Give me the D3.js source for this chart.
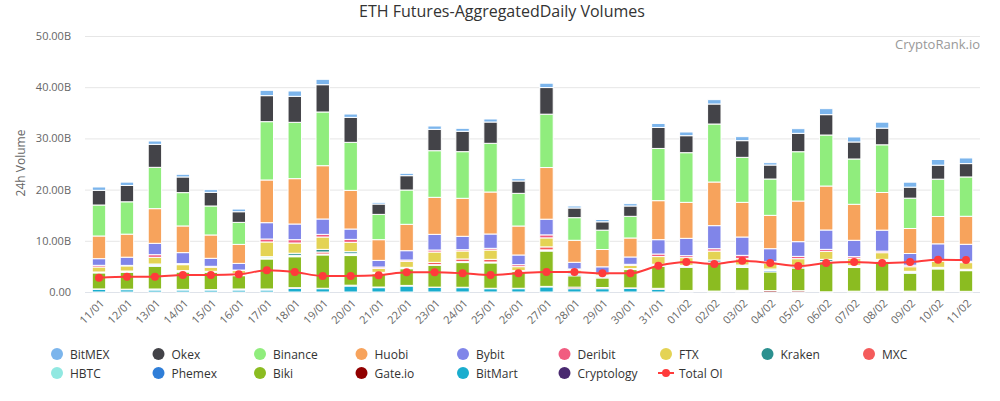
<!DOCTYPE html>
<html><head><meta charset="utf-8">
<script src="https://cdn.jsdelivr.net/npm/d3@7"></script>
<style>body{margin:0;background:#fff;font-family:"Open Sans",sans-serif;}</style>
</head><body><svg id="c" width="1000" height="401"></svg>
<script>
const dates = ["11/01","12/01","13/01","14/01","15/01","16/01","17/01","18/01","19/01","20/01","21/01","22/01","23/01","24/01","25/01","26/01","27/01","28/01","29/01","30/01","31/01","01/02","02/02","03/02","04/02","05/02","06/02","07/02","08/02","09/02","10/02","11/02"];
const BitMEX  = [.65,.65,.65,.52,.52,.52,1.04,1.04,1.05,.65,.33,.46,.65,.58,.59,.46,.85,.39,.45,.46,.78,.72,.85,.78,.46,.91,1.17,.98,1.17,.97,1.11,1.1];
const Okex    = [2.87,3.19,4.49,3.06,2.67,2.08,5.08,5.08,5.33,4.88,2.02,2.8,4.17,3.98,4.16,2.41,5.2,1.89,1.63,2.02,4.1,3.32,3.91,3.26,2.73,3.59,3.98,3.32,3.25,2.15,2.73,2.61];
const Binance = [6.05,6.32,8.07,6.51,5.66,4.3,11.39,11.0,10.49,9.38,4.94,6.7,9.11,9.11,9.51,6.38,10.42,4.42,3.78,4.23,10.2,9.7,11.33,8.79,7.1,9.63,9.96,8.85,9.31,5.93,7.29,7.68];
const Huobi   = [4.43,4.5,6.77,5.21,4.56,3.71,8.34,8.86,10.41,7.55,4.04,5.15,7.23,7.42,8.2,5.66,10.09,4.3,3.38,3.71,7.62,7.03,8.52,6.77,6.51,7.94,8.59,7.03,7.36,4.88,5.34,5.47];
const Bybit   = [1.3,1.6,2.22,2.15,1.56,1.3,3.19,3.06,3.0,2.02,1.3,1.82,3.06,2.61,2.8,1.89,3.06,1.3,1.24,1.43,2.8,3.38,4.5,3.58,2.54,2.87,3.78,3.19,4.1,2.28,3.19,3.32];
const Deribit = [.33,.1,.52,.2,.2,.1,.58,.65,.52,.58,.26,.26,.39,.26,.33,.39,.59,.2,.1,.2,.5,.39,.46,.65,.26,.45,.39,.33,.3,.3,.2,.26];
const FTX     = [.97,1.0,1.3,1.17,.78,.55,2.87,2.0,2.41,1.83,.78,1.17,2.02,1.56,1.82,.78,1.76,.52,.39,.65,1.5,1.5,1.75,1.24,1.17,1.3,1.56,1.44,1.3,.9,1.2,1.3];
const Kraken  = [0,0,0,0,0,0,0,.4,.52,.39,0,0,0,0,0,0,0,0,0,0,0,0,.39,0,0,0,.39,0,0,0,0,0];
const MXC     = [0,0,0,0,0,0,0,0,.39,0,0,0,.45,.52,.52,0,.58,0,0,0,0,0,0,0,0,0,0,0,0,0,0,0];
const HBTC    = [.1,.15,.25,.15,.1,.25,.25,.15,.1,.2,.15,.15,.05,.1,.1,.1,.13,.31,.22,.1,.2,.2,.1,.25,.28,.26,.05,.2,.2,.2,.16,.14];
const Phemex  = [.08,.1,.2,.12,.08,.2,.2,.13,.08,.16,.12,.12,.04,.08,.08,.08,.1,.3,.22,.08,.2,.19,.08,.23,.28,.26,.04,.16,.16,.16,.15,.13];
const Biki    = [3.13,3.3,4.43,3.39,3.39,2.6,5.86,6.05,6.51,5.79,2.6,3.26,4.3,4.82,4.95,3.26,6.9,2.22,1.88,3.58,4.3,4.52,5.5,4.46,3.65,4.43,5.86,4.62,5.86,3.52,4.36,4.04];
const GateIo  = [.08,.1,.2,.12,.08,.2,.2,.12,.08,.16,.12,.12,.04,.08,.08,.08,.1,.3,.22,.08,.2,.2,.08,.23,.28,.26,.04,.16,.16,.16,.15,.13];
const BitMart = [.52,.45,.39,.39,.39,.39,.39,.72,.65,1.17,.85,1.17,.91,.85,.65,.65,1.0,.65,.65,.72,.52,.1,.1,.1,0,0,0,0,0,0,0,0];
const Cryptology = [0,0,0,0,0,0,0,0,0,0,0,0,0,0,0,0,0,0,0,0,0,0,0,0,0,0,0,0,0,0,0,0];
const TotalOI = [2.8,3.0,3.0,3.32,3.32,3.45,4.23,3.9,3.13,3.13,3.26,3.84,3.84,3.65,3.32,3.65,3.9,3.9,3.65,3.65,5.14,5.86,5.47,6.12,5.66,5.08,5.66,5.86,5.66,5.86,6.32,6.25];
const yTicks = [0,10,20,30,40,50];

const seriesNames = ["BitMEX","Okex","Binance","Huobi","Bybit","Deribit","FTX","Kraken","MXC","HBTC","Phemex","Biki","Gate.io","BitMart","Cryptology"];
const seriesVals = [BitMEX,Okex,Binance,Huobi,Bybit,Deribit,FTX,Kraken,MXC,HBTC,Phemex,Biki,GateIo,BitMart,Cryptology];
const colors = {"BitMEX":"#7cb5ec","Okex":"#434348","Binance":"#90ed7d","Huobi":"#f7a35c","Bybit":"#8085e9","Deribit":"#f15c80","FTX":"#e4d354","Kraken":"#2b908f","MXC":"#f45b5b","HBTC":"#91e8e1","Phemex":"#2f7ed8","Biki":"#8bbc21","Gate.io":"#910000","BitMart":"#1aadce","Cryptology":"#492970"};
const lineColor = "#ff3b3b";

const rows = dates.map((d,i)=>{const o={date:d}; seriesNames.forEach((n,k)=>o[n]=seriesVals[k][i]); return o;});
const svg = d3.select("#c");
const x = d3.scaleBand().domain(dates).range([85,980]).padding(0);
const y = d3.scaleLinear().domain([0,50]).range([292,36]);

// grid
svg.append("g").selectAll("line").data(yTicks).join("line")
  .attr("x1",85).attr("x2",980).attr("y1",d=>y(d)+0.5).attr("y2",d=>y(d)+0.5)
  .attr("stroke",d=>d===0?"#dfe3ea":"#e6e6e6").attr("stroke-width",1);

// y labels
svg.append("g").selectAll("text").data(yTicks).join("text")
  .attr("x",71).attr("y",d=>y(d)+4).attr("text-anchor","end")
  .attr("font-size",11).attr("fill","#666")
  .text(d=>d===0?"0.00":d3.format(".2f")(d)+"B");

svg.append("text").attr("transform","translate(25,163) rotate(-90)")
  .attr("text-anchor","middle").attr("font-size",12).attr("fill","#666").text("24h Volume");

// stacked bars
const stackKeys = seriesNames.slice().reverse();
const stacked = d3.stack().keys(stackKeys)(rows);
const bw = x.bandwidth()*0.48;
const gBars = svg.append("g");
stacked.forEach(layer=>{
  gBars.append("g").attr("fill",colors[layer.key]).selectAll("rect").data(layer).join("rect")
    .attr("x",d=>x(d.data.date)+(x.bandwidth()-bw)/2)
    .attr("y",d=>y(d[1]))
    .attr("width",bw)
    .attr("height",d=>Math.max(0,y(d[0])-y(d[1])))
    .attr("stroke","#fff").attr("stroke-width",1);
});

// line
const cx = d=>x(d)+x.bandwidth()/2;
const line = d3.line().x((v,i)=>cx(dates[i])).y(v=>y(v)).curve(d3.curveMonotoneX);
svg.append("path").datum(TotalOI).attr("d",line).attr("fill","none").attr("stroke",lineColor).attr("stroke-width",2);
svg.append("g").selectAll("circle").data(TotalOI).join("circle")
  .attr("cx",(v,i)=>cx(dates[i])).attr("cy",v=>y(v)).attr("r",4).attr("fill",lineColor);

// x labels
svg.append("g").selectAll("text").data(dates).join("text")
  .attr("transform",d=>`translate(${cx(d)+6},304) rotate(-45)`)
  .attr("text-anchor","end").attr("font-size",11).attr("fill","#666").text(d=>d);

// title & credits
svg.append("text").attr("x",502).attr("y",17).attr("text-anchor","middle")
  .attr("font-size",16).attr("fill","#333").text("ETH Futures-AggregatedDaily Volumes");
svg.append("text").attr("x",980).attr("y",49).attr("text-anchor","end")
  .attr("font-size",13).attr("fill","#999").text("CryptoRank.io");

// legend
const legendItems = seriesNames.concat(["Total OI"]);
const lg = svg.append("g");
legendItems.forEach((n,i)=>{
  const col=i%9,row=Math.floor(i/9);
  const cxl=57+col*101.5, cyl=354+row*19;
  const g=lg.append("g");
  if(n==="Total OI"){
    g.append("line").attr("x1",cxl-8).attr("x2",cxl+8).attr("y1",cyl).attr("y2",cyl).attr("stroke",lineColor).attr("stroke-width",2);
    g.append("circle").attr("cx",cxl).attr("cy",cyl).attr("r",4).attr("fill",lineColor);
  } else {
    g.append("circle").attr("cx",cxl).attr("cy",cyl).attr("r",6).attr("fill",colors[n]);
  }
  g.append("text").attr("x",cxl+13).attr("y",cyl+4.5).attr("font-size",12).attr("fill","#333").text(n);
});
</script></body></html>
